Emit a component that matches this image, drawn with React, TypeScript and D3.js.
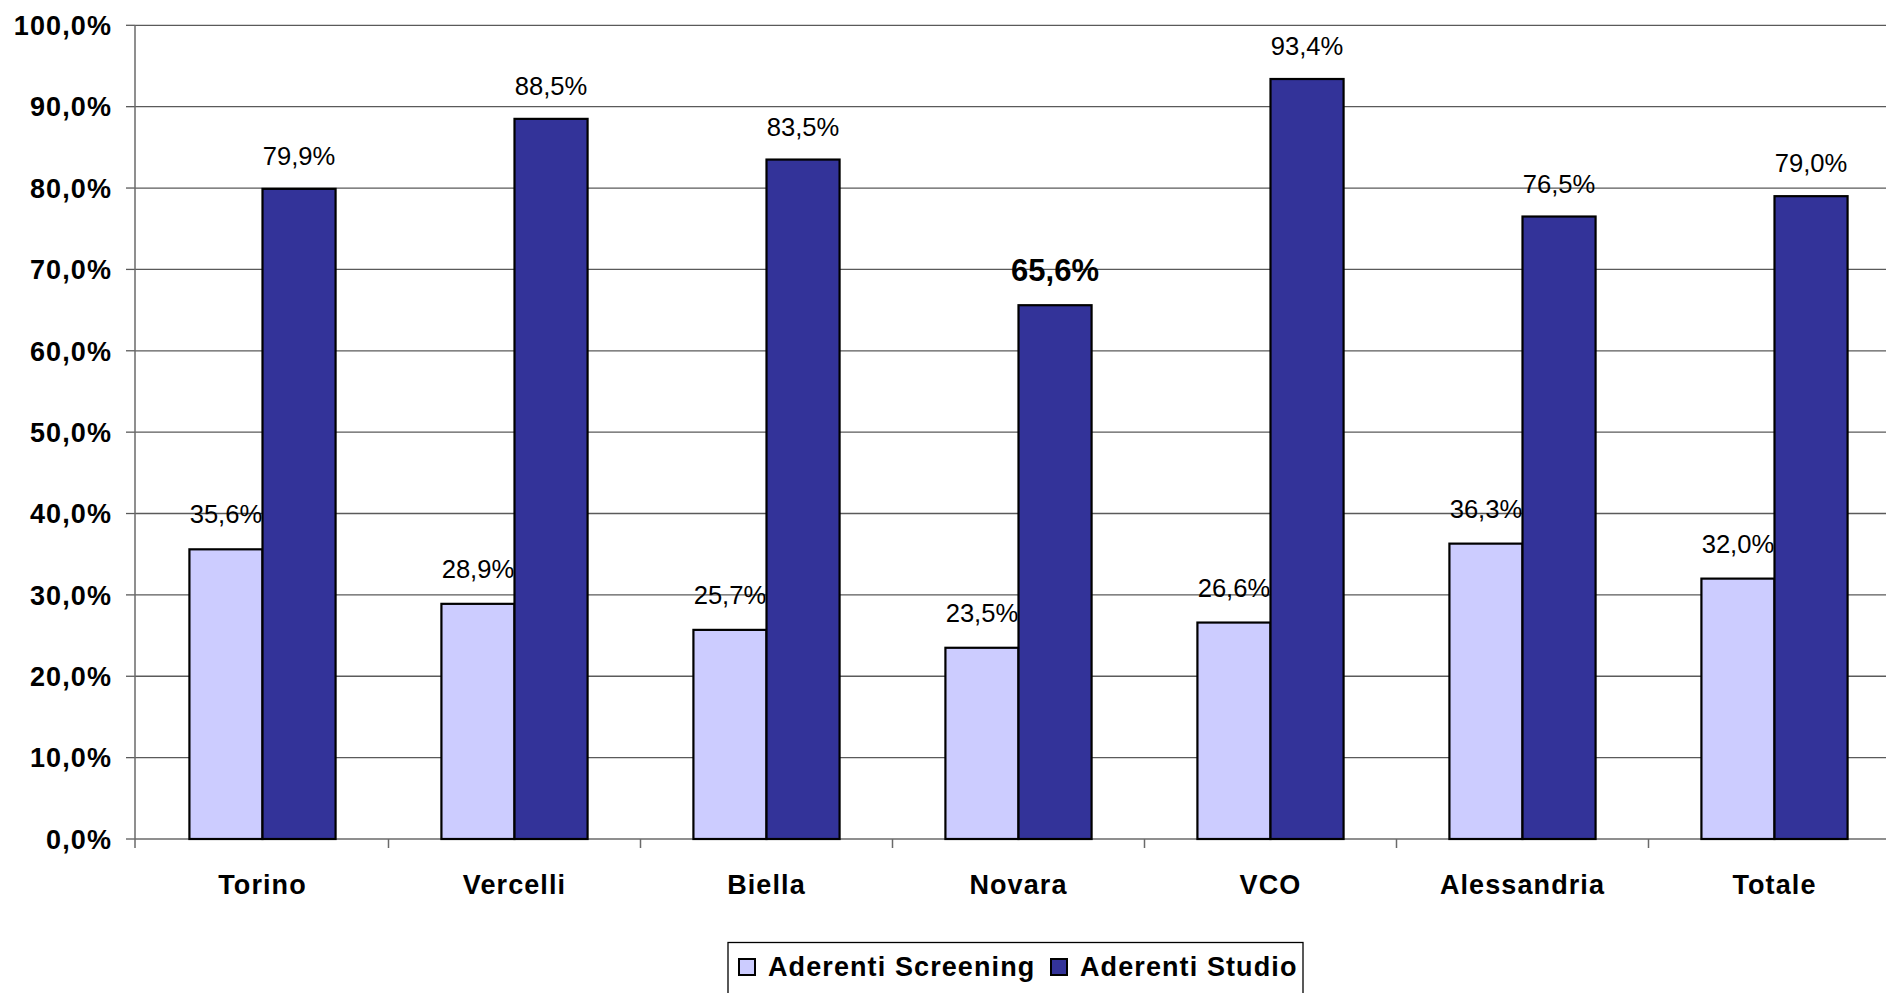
import React from "react";
import * as d3 from "d3";

const categories = ["Torino", "Vercelli", "Biella", "Novara", "VCO", "Alessandria", "Totale"];
const screening = [35.6, 28.9, 25.7, 23.5, 26.6, 36.3, 32.0];
const studio = [79.9, 88.5, 83.5, 65.6, 93.4, 76.5, 79.0];
const yTicks = [0, 10, 20, 30, 40, 50, 60, 70, 80, 90, 100];
const seriesNames = ["Aderenti Screening", "Aderenti Studio"];
const colors = ["#CCCCFF", "#333399"];
const highlightIndex = 3;

const W = 1886;
const H = 993;
const left = 135;
const band = 252;
const top = 25.3;
const bottom = 839;
const font = "'Liberation Sans', Arial, sans-serif";

const fmt = (v: number) => v.toFixed(1).replace(".", ",") + "%";

export default function App() {
  const x = d3
    .scaleBand<string>()
    .domain(categories)
    .range([left + 1.5, left + 1.5 + band * categories.length])
    .paddingInner(0.42)
    .paddingOuter(0.21);
  const y = d3.scaleLinear().domain([0, 100]).range([bottom, top]);
  const bw = x.bandwidth() / 2;

  const boundaries = d3.range(categories.length + 1).map((i) => left + i * band + (i > 0 ? 1.5 : 0));

  return (
    <svg
      width={W}
      height={H}
      style={{ position: "absolute", left: 0, top: 0, background: "#fff" }}
      fontFamily={font}
    >
      <rect x={0} y={0} width={W} height={H} fill="#fff" />
      {/* gridlines */}
      {yTicks.map((t) => (
        <g key={t}>
          {t > 0 && (
            <line x1={left} x2={W} y1={y(t)} y2={y(t)} stroke="#5a5a5a" strokeWidth={1.3} />
          )}
          <line x1={left - 9} x2={left} y1={y(t)} y2={y(t)} stroke="#5a5a5a" strokeWidth={1.3} />
          <text
            x={112}
            y={y(t)}
            dy="0.36em"
            textAnchor="end"
            fontSize={27}
            fontWeight="bold"
            letterSpacing={1.1}
            fill="#000"
          >
            {fmt(t)}
          </text>
        </g>
      ))}
      {/* axes */}
      <line x1={left} x2={left} y1={top} y2={bottom} stroke="#6a6a6a" strokeWidth={1.5} />
      <line x1={left} x2={W} y1={bottom} y2={bottom} stroke="#6a6a6a" strokeWidth={1.5} />
      {boundaries.map((b, i) => (
        <line key={i} x1={b} x2={b} y1={bottom} y2={bottom + 9} stroke="#6a6a6a" strokeWidth={1.5} />
      ))}
      {/* screening bars */}
      {categories.map((c, i) => (
        <rect
          key={"s" + c}
          x={x(c)!}
          y={y(screening[i])}
          width={bw}
          height={bottom - y(screening[i])}
          fill={colors[0]}
          stroke="#000"
          strokeWidth={2.2}
        />
      ))}
      {categories.map((c, i) => (
        <text
          key={"sl" + c}
          x={x(c)! + bw / 2}
          y={y(screening[i]) - 26}
          textAnchor="middle"
          fontSize={25.6}
          fill="#000"
        >
          {fmt(screening[i])}
        </text>
      ))}
      {/* studio bars */}
      {categories.map((c, i) => (
        <rect
          key={"d" + c}
          x={x(c)! + bw}
          y={y(studio[i])}
          width={bw}
          height={bottom - y(studio[i])}
          fill={colors[1]}
          stroke="#000"
          strokeWidth={2.2}
        />
      ))}
      {categories.map((c, i) => (
        <text
          key={"dl" + c}
          x={x(c)! + bw * 1.5}
          y={y(studio[i]) - 24}
          textAnchor="middle"
          fontSize={i === highlightIndex ? 31 : 25.6}
          fontWeight={i === highlightIndex ? "bold" : "normal"}
          fill="#000"
        >
          {fmt(studio[i])}
        </text>
      ))}
      {/* category labels */}
      {categories.map((c) => (
        <text
          key={"c" + c}
          x={x(c)! + bw}
          y={894}
          textAnchor="middle"
          fontSize={27}
          fontWeight="bold"
          letterSpacing={1.1}
          fill="#000"
        >
          {c}
        </text>
      ))}
      {/* legend */}
      <rect x={728} y={942.5} width={575} height={70} fill="#fff" stroke="#000" strokeWidth={1.3} />
      {seriesNames.map((n, i) => {
        const sx = i === 0 ? 739 : 1051;
        return (
          <g key={n}>
            <rect x={sx} y={959} width={16} height={16} fill={colors[i]} stroke="#000" strokeWidth={2} />
            <text
              x={sx + 29}
              y={976}
              fontSize={27}
              fontWeight="bold"
              letterSpacing={1.1}
              fill="#000"
            >
              {n}
            </text>
          </g>
        );
      })}
    </svg>
  );
}
